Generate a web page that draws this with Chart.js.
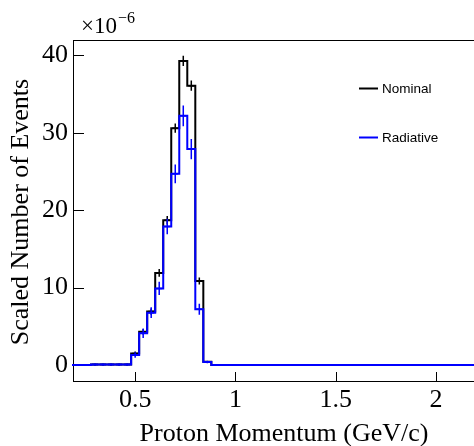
<!DOCTYPE html>
<html lang="en">
<head>
<meta charset="UTF-8">
<title>Proton Momentum</title>
<script src="https://cdn.jsdelivr.net/npm/chart.js"></script>
<style>
  body { margin: 0; background: #fff; overflow: hidden; }
  canvas { display: block; }
</style>
</head>
<body>
<canvas id="momentumChart" width="476" height="446"></canvas>
<script>
// histogram bin edges in GeV/c (0.04 wide bins)
const binEdges = [
  0.16, 0.20, 0.24, 0.28, 0.32, 0.36, 0.40, 0.44, 0.48, 0.52,
  0.56, 0.60, 0.64, 0.68, 0.72, 0.76, 0.80, 0.84, 0.88, 0.92,
  0.96, 1.00, 1.04, 1.08, 1.12, 1.16, 1.20, 1.24, 1.28, 1.32,
  1.36, 1.40, 1.44, 1.48, 1.52, 1.56, 1.60, 1.64, 1.68, 1.72,
  1.76, 1.80, 1.84, 1.88, 1.92, 1.96, 2.00, 2.04, 2.08, 2.12,
  2.16, 2.20
];

// bin contents, units of 1e-6
const nominal = [
  0, 0, 0, 0.05, 0.05, 0.05, 0.05, 0.05, 1.5, 4.3,
  6.9, 11.9, 18.7, 30.6, 39.3, 36.1, 10.85, 0.43, 0, 0,
  0, 0, 0, 0, 0, 0, 0, 0, 0, 0,
  0, 0, 0, 0, 0, 0, 0, 0, 0, 0,
  0, 0, 0, 0, 0, 0, 0, 0, 0, 0,
  0
];
const nominalErr = [
  0, 0, 0, 0.15, 0.15, 0.15, 0.15, 0.15, 0.25, 0.35,
  0.4, 0.5, 0.55, 0.6, 0.65, 0.65, 0.45, 0.1, 0, 0,
  0, 0, 0, 0, 0, 0, 0, 0, 0, 0,
  0, 0, 0, 0, 0, 0, 0, 0, 0, 0,
  0, 0, 0, 0, 0, 0, 0, 0, 0, 0,
  0
];
const radiative = [
  0, 0, 0, 0.05, 0.05, 0.05, 0.05, 0.05, 1.3, 4.1,
  6.76, 9.9, 17.9, 24.7, 32.2, 27.9, 7.2, 0.39, 0, 0,
  0, 0, 0, 0, 0, 0, 0, 0, 0, 0,
  0, 0, 0, 0, 0, 0, 0, 0, 0, 0,
  0, 0, 0, 0, 0, 0, 0, 0, 0, 0,
  0
];
const radiativeErr = [
  0, 0, 0, 0.15, 0.15, 0.15, 0.15, 0.15, 0.35, 0.6,
  0.7, 0.85, 1.0, 1.2, 1.35, 1.3, 0.7, 0.15, 0, 0,
  0, 0, 0, 0, 0, 0, 0, 0, 0, 0,
  0, 0, 0, 0, 0, 0, 0, 0, 0, 0,
  0, 0, 0, 0, 0, 0, 0, 0, 0, 0,
  0
];

const seriesNames = ["Nominal", "Radiative"];
const xTickValues = [0.5, 1, 1.5, 2];
const yTickValues = [0, 10, 20, 30, 40];
const xRange = [0.19, 2.2];
const yRange = [-2.07, 42.0];
const xTitle = "Proton Momentum (GeV/c)";
const yTitle = "Scaled Number of Events";

const serif = "'Liberation Serif', 'Times New Roman', serif";
const sans = "'Liberation Sans', Arial, sans-serif";

// points on the low edges, plus the last high edge, for a stepped outline
function stepPoints(values) {
  const pts = values.map((v, i) => ({ x: binEdges[i], y: v }));
  pts.push({ x: binEdges[values.length], y: values[values.length - 1] });
  return pts;
}

const errors = [nominalErr, radiativeErr];
const contents = [nominal, radiative];

// fixed axis range and tick list
function fixRange(range, tickValues) {
  return {
    afterDataLimits: s => { s.min = range[0]; s.max = range[1]; },
    afterBuildTicks: s => {
      s.ticks = tickValues.map(v => ({ value: v }));
      s.min = range[0];
      s.max = range[1];
    }
  };
}

// ROOT-like frame, inward ticks, error bars, titles and legend
const rootStyle = {
  id: "rootStyle",
  beforeDatasetsDraw(chart) {
    const ctx = chart.ctx;
    const { left, right, top, bottom } = chart.chartArea;
    const xs = chart.scales.x, ys = chart.scales.y;
    ctx.save();
    // frame
    ctx.strokeStyle = "#000";
    ctx.lineWidth = 1;
    ctx.strokeRect(left + 0.5, top + 0.5, right - left - 1, bottom - top);
    // tick marks pointing inside
    ctx.beginPath();
    yTickValues.forEach(v => {
      const py = Math.round(ys.getPixelForValue(v)) + 0.5;
      ctx.moveTo(left, py);
      ctx.lineTo(left + 11, py);
    });
    xTickValues.forEach(v => {
      const px = Math.round(xs.getPixelForValue(v)) + 0.5;
      ctx.moveTo(px, bottom + 0.5);
      ctx.lineTo(px, bottom - 9);
    });
    ctx.stroke();
    ctx.restore();
  },
  afterDatasetDraw(chart, args) {
    const ctx = chart.ctx;
    const xs = chart.scales.x, ys = chart.scales.y;
    const i = args.index;
    const vals = contents[i], errs = errors[i];
    ctx.save();
    ctx.strokeStyle = chart.data.datasets[i].borderColor;
    ctx.lineWidth = 1.5;
    vals.forEach((v, b) => {
      if (!errs[b]) return;
      const cx = xs.getPixelForValue((binEdges[b] + binEdges[b + 1]) / 2);
      ctx.beginPath();
      ctx.moveTo(cx, ys.getPixelForValue(v - errs[b]));
      ctx.lineTo(cx, ys.getPixelForValue(v + errs[b]));
      ctx.moveTo(cx - 3, ys.getPixelForValue(v));
      ctx.lineTo(cx + 3, ys.getPixelForValue(v));
      ctx.stroke();
    });
    ctx.restore();
  },
  afterDraw(chart) {
    const ctx = chart.ctx;
    ctx.save();

    // axis titles
    ctx.fillStyle = "#000";
    ctx.font = "26px " + serif;
    ctx.textAlign = "center";
    ctx.textBaseline = "alphabetic";
    ctx.fillText(xTitle, 284, 441);
    ctx.save();
    ctx.translate(28, 212);
    ctx.rotate(-Math.PI / 2);
    ctx.fillText(yTitle, 0, 0);
    ctx.restore();

    // exponent
    ctx.textAlign = "left";
    ctx.font = "23px " + serif;
    ctx.fillText("\u00d710", 81, 33);
    const w = ctx.measureText("\u00d710").width;
    ctx.font = "16px " + serif;
    ctx.fillText("\u22126", 81 + w + 1, 23);

    // legend
    const rows = [89, 138];
    ctx.font = "13.5px " + sans;
    ctx.textBaseline = "middle";
    chart.data.datasets.forEach((ds, k) => {
      ctx.strokeStyle = ds.borderColor;
      ctx.lineWidth = 2;
      ctx.beginPath();
      ctx.moveTo(359, rows[k] - 0.5);
      ctx.lineTo(378, rows[k] - 0.5);
      ctx.stroke();
      ctx.fillStyle = "#000";
      ctx.fillText(ds.label, 382, rows[k]);
    });
    ctx.restore();
  }
};

new Chart(document.getElementById("momentumChart"), {
  type: "line",
  data: {
    datasets: [
      {
        label: seriesNames[0],
        data: stepPoints(nominal),
        borderColor: "#000000",
        borderWidth: 2,
        stepped: true,
        pointRadius: 0,
        fill: false,
        order: 2
      },
      {
        label: seriesNames[1],
        data: stepPoints(radiative),
        borderColor: "#0000ff",
        borderWidth: 2,
        stepped: true,
        pointRadius: 0,
        fill: false,
        order: 1
      }
    ]
  },
  options: {
    responsive: false,
    animation: false,
    devicePixelRatio: 1,
    layout: { padding: { top: 40, right: 0, bottom: 0, left: 0 } },
    plugins: { legend: { display: false }, tooltip: { enabled: false } },
    scales: {
      x: {
        type: "linear",
        bounds: "data",
        grid: { display: false, drawTicks: false },
        border: { display: false },
        ...fixRange(xRange, xTickValues),
        afterFit: s => { s.height = 65; },
        ticks: {
          padding: 4,
          color: "#000",
          maxRotation: 0,
          font: { family: serif, size: 26 },
          callback: v => String(v)
        }
      },
      y: {
        type: "linear",
        bounds: "data",
        grid: { display: false, drawTicks: false },
        border: { display: false },
        ...fixRange(yRange, yTickValues),
        afterFit: s => { s.width = 73; },
        ticks: {
          padding: 5,
          color: "#000",
          font: { family: serif, size: 26 },
          callback: v => String(v)
        }
      }
    }
  },
  plugins: [rootStyle]
});
</script>
</body>
</html>
